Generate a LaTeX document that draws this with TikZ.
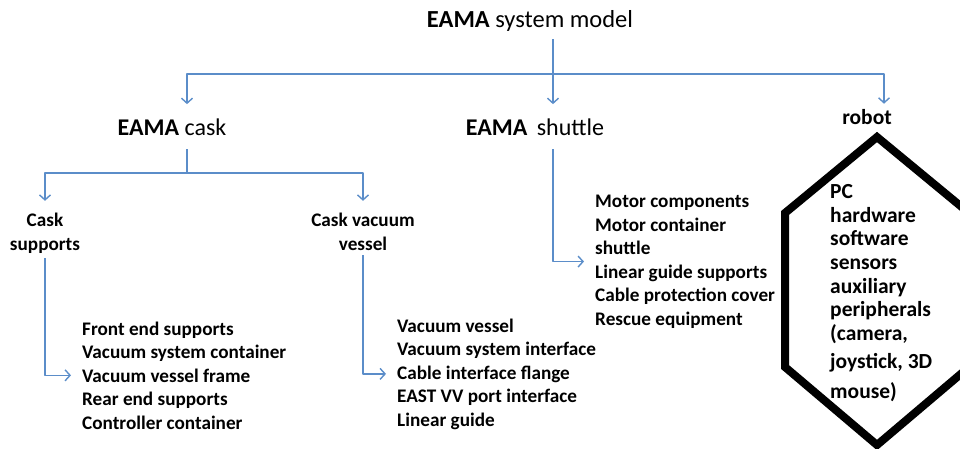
\documentclass[tikz,border=0pt]{standalone}
\usepackage{fontspec}
\setmainfont{Carlito}
\usetikzlibrary{arrows.meta,positioning}
\definecolor{linkblue}{RGB}{91,141,201}
\newcommand\titlefont{\fontsize{24.5}{28}\selectfont}
\newcommand\headfont{\fontsize{24}{28}\selectfont}
\newcommand\itemfont{\fontsize{19.2}{23.5}\selectfont\bfseries}
\newcommand\partfont{\fontsize{21.5}{23.7}\selectfont\bfseries}
\tikzset{
  link/.style={draw=linkblue,line width=1.4pt,-{Straight Barb[length=5pt,width=11pt,line width=1.4pt]}},
  trunk/.style={draw=linkblue,line width=1.4pt},
  head/.style={font=\headfont,inner xsep=0pt,inner ysep=14pt},
  sub/.style={font=\itemfont,align=center,inner xsep=0pt,inner ysep=5pt},
  items/.style={font=\itemfont,align=left,inner xsep=11pt,inner ysep=0pt}
}

\begin{document}
\begin{tikzpicture}[x=1pt,y=-1pt,line join=round]
  \useasboundingbox (0,0) rectangle (960,448);
  % headings
  \node[head,font=\titlefont,inner ysep=8pt,anchor=base] (sys) at (530,27) {\textbf{EAMA} system model};
  \node[head,anchor=base] (cask) at (172,135) {\textbf{EAMA} cask};
  \node[head,anchor=base] (shuttle) at (535,135) {\textbf{EAMA}\hspace{4pt} shuttle};
  \node[font=\partfont,inner xsep=0pt,inner ysep=5pt,anchor=base] (robot) at (867,124) {robot};
  \node[sub,anchor=base] (supports) at (45,250) {Cask\\supports};
  \node[sub,anchor=base] (vessel) at (363,250) {Cask vacuum\\vessel};
  % lists (base = last line)
  \node[items,anchor=base west] (list1) at (71,429) {Front end supports\\Vacuum system container\\Vacuum vessel frame\\Rear end supports\\Controller container};
  \node[items,anchor=base west] (list2) at (386,426) {Vacuum vessel\\Vacuum system interface\\Cable interface flange\\EAST VV port interface\\Linear guide};
  \node[items,anchor=base west] (list3) at (584,325) {Motor components\\Motor container\\shuttle\\Linear guide supports\\Cable protection cover\\Rescue equipment};
  \node[font=\partfont,align=left,inner sep=0pt,anchor=base west] (robotlist) at (830,398) {PC\\hardware\\software\\sensors\\auxiliary\\peripherals\\(camera,\\[4pt]joystick, 3D\\[6pt]mouse)};
  % hexagon round the robot parts
  \draw[line width=8pt,line join=miter] (877,137) -- (785,213) -- (785,367) -- (877,445) -- (969,367) -- (969,213) -- cycle;
  % connectors
  \coordinate (topj) at (553,74);
  \coordinate (caskj) at (187,173);
  \draw[trunk] ([xshift=23pt]sys.south) -- (topj);
  \draw[link] (topj) -| ([xshift=15pt]cask.north);
  \draw[link] (topj) -- ([xshift=18pt]shuttle.north);
  \draw[link] (topj) -| ([xshift=17pt]robot.north);
  \draw[trunk] ([xshift=15pt]cask.south) -- (caskj);
  \draw[link] (caskj) -| ([yshift=7pt]supports.north);
  \draw[link] (caskj) -| ([yshift=7pt]vessel.north);
  \draw[link] (supports.south) |- (list1.west);
  \draw[link] (vessel.south) |- (list2.west);
  \draw[link] ([xshift=18pt]shuttle.south) |- (list3.west);
\end{tikzpicture}
\end{document}
